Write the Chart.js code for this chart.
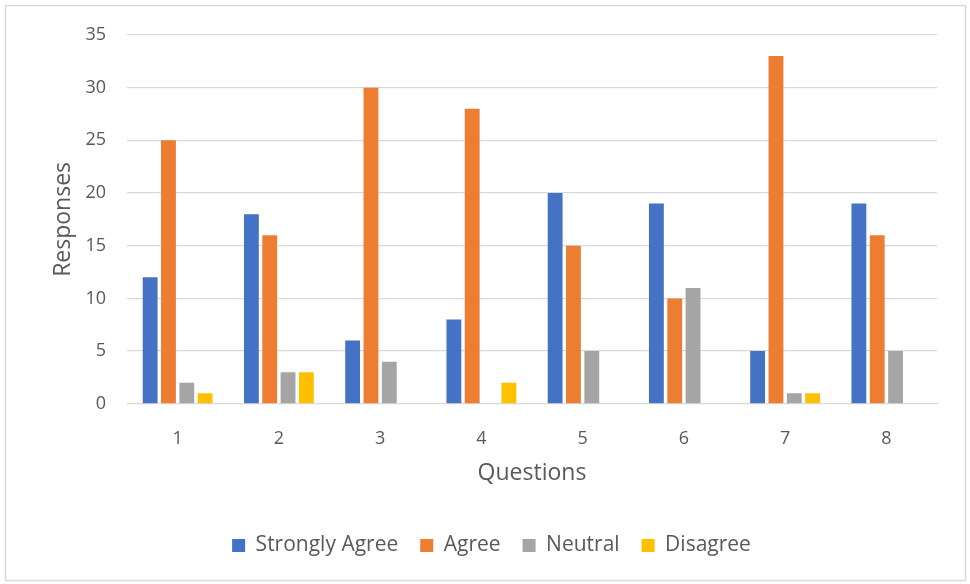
<!DOCTYPE html>
<html>
<head>
<meta charset="utf-8">
<script src="https://cdn.jsdelivr.net/npm/chart.js@4/dist/chart.umd.min.js"></script>
<style>
  html, body { margin:0; padding:0; background:#fff; }
  #wrap { position:relative; width:970px; height:584px; }
</style>
</head>
<body>
<div id="wrap"><canvas id="c" width="970" height="584"></canvas></div>
<script>
const questions = ['1','2','3','4','5','6','7','8'];
const stronglyAgree = [12, 18, 6, 8, 20, 19, 5, 19];
const agree = [25, 16, 30, 28, 15, 10, 33, 16];
const neutral = [2, 3, 4, 0, 5, 11, 1, 5];
const disagree = [1, 3, 0, 2, 0, 0, 1, 0];

const TXT = '#595959';
const GRID = '#d9d9d9';
const FONT = 'Open Sans';

// outer frame like the Excel chart area
const frame = {
  id: 'frame',
  beforeDraw(chart) {
    const ctx = chart.ctx;
    ctx.save();
    ctx.fillStyle = '#fff';
    ctx.fillRect(0, 0, chart.width, chart.height);
    ctx.strokeStyle = GRID;
    ctx.lineWidth = 1.5;
    ctx.strokeRect(5.5, 5.5, 960, 575);
    ctx.restore();
  }
};

const ds = (label, data, color) => ({
  label, data, backgroundColor: color, borderWidth: 0,
  barPercentage: 0.81, categoryPercentage: 0.724
});

new Chart(document.getElementById('c'), {
  type: 'bar',
  data: {
    labels: questions,
    datasets: [
      ds('Strongly Agree', stronglyAgree, '#4472c4'),
      ds('Agree', agree, '#ed7d31'),
      ds('Neutral', neutral, '#a5a5a5'),
      ds('Disagree', disagree, '#ffc000'),
    ]
  },
  options: {
    responsive: false,
    animation: false,
    layout: { padding: { left: 46, right: 33, top: 35, bottom: 18 } },
    plugins: {
      legend: {
        position: 'bottom',
        // blank title only used as a spacer above the items
        title: { display: true, text: ' ', font: { size: 1 }, padding: { top: 0, bottom: 21 } },
        labels: { color: TXT, font: { size: 21, family: FONT }, boxWidth: 13, boxHeight: 13, padding: 22 }
      },
      tooltip: { enabled: false }
    },
    scales: {
      x: {
        grid: { display: false },
        border: { color: GRID },
        ticks: { color: TXT, font: { size: 18, family: FONT }, padding: 16 },
        title: { display: true, text: 'Questions', color: TXT, font: { size: 23, family: FONT }, padding: { top: 8 } },
        afterFit: s => { s.height = 87; }
      },
      y: {
        min: 0, max: 35,
        grid: { color: GRID, drawTicks: false, lineWidth: 1.3 },
        border: { display: false },
        ticks: { stepSize: 5, color: TXT, font: { size: 18, family: FONT }, padding: 21 },
        title: { display: true, text: 'Responses', color: TXT, font: { size: 23, family: FONT } },
        afterFit: s => { s.width = 81; }
      }
    }
  },
  plugins: [frame]
});
</script>
</body>
</html>
